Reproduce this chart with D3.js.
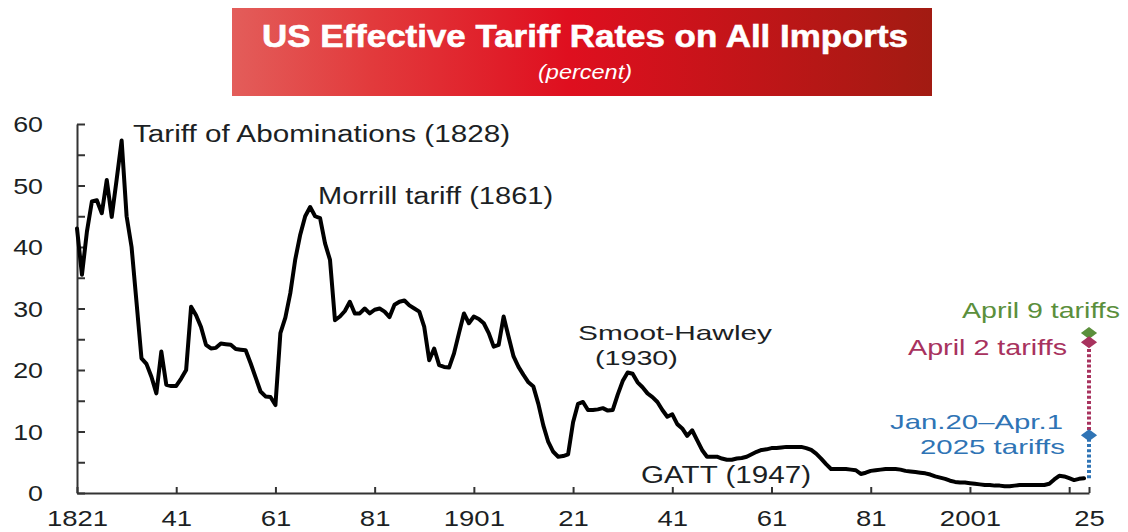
<!DOCTYPE html>
<html>
<head>
<meta charset="utf-8">
<script src="https://cdn.jsdelivr.net/npm/d3@7"></script>
<style>
  body { margin: 0; background: #fff; }
  svg { display: block; font-family: "Liberation Sans", Arial, Helvetica, sans-serif; }
</style>
</head>
<body>
<svg id="chart" width="1128" height="532"></svg>
<script>
// US effective tariff rate on all imports, percent, one value per year from 1821
const startYear = 1821;
const tariffRate = [
  43.0, 35.5, 42.5, 47.4, 47.6, 45.5, 50.9, 44.9, 51.0, 57.3,   // 1821-1830
  45.0, 40.0, 31.0, 21.9, 21.0, 18.9, 16.2, 23.0, 17.6, 17.4,   // 1831-1840
  17.4, 18.6, 20.0, 30.3, 28.9, 27.0, 24.1, 23.5, 23.6, 24.3,   // 1841-1850
  24.2, 24.1, 23.4, 23.3, 23.2, 21.1, 18.8, 16.5, 15.7, 15.6,   // 1851-1860
  14.3, 26.0, 28.5, 32.5, 38.0, 42.0, 45.0, 46.5, 45.0, 44.7,   // 1861-1870
  40.6, 37.9, 28.1, 28.7, 29.6, 31.1, 29.2, 29.2, 30.0, 29.2,   // 1871-1880
  29.8, 30.0, 29.5, 28.6, 30.6, 31.1, 31.3, 30.5, 30.0, 29.5,   // 1881-1890
  27.0, 21.6, 23.5, 20.8, 20.5, 20.4, 22.7, 26.0, 29.2, 27.6,   // 1891-1900
  28.7, 28.3, 27.6, 26.0, 23.8, 24.1, 28.7, 25.4, 22.2, 20.5,   // 1901-1910
  19.2, 18.0, 17.3, 14.5, 11.0,  8.3,  6.7,  5.9,  6.0,  6.3,   // 1911-1920
  11.5, 14.5, 14.8, 13.5, 13.5, 13.6, 13.8, 13.4, 13.5, 16.0,   // 1921-1930
  18.2, 19.6, 19.4, 18.0, 17.2, 16.2, 15.6, 14.8, 13.5, 12.4,   // 1931-1940
  12.8, 11.2, 10.5,  9.3, 10.2,  8.6,  7.0,  5.9,  5.9,  5.9,   // 1941-1950
   5.6,  5.4,  5.4,  5.6,  5.7,  5.9,  6.3,  6.7,  7.0,  7.1,   // 1951-1960
   7.3,  7.3,  7.4,  7.5,  7.5,  7.5,  7.5,  7.3,  7.0,  6.4,   // 1961-1970
   5.6,  4.7,  3.9,  3.9,  3.9,  3.9,  3.8,  3.7,  3.1,  3.3,   // 1971-1980
   3.6,  3.7,  3.8,  3.9,  3.9,  3.9,  3.8,  3.6,  3.5,  3.4,   // 1981-1990
   3.3,  3.2,  3.0,  2.7,  2.5,  2.3,  2.0,  1.8,  1.7,  1.7,   // 1991-2000
   1.6,  1.5,  1.4,  1.3,  1.3,  1.2,  1.2,  1.1,  1.1,  1.2,   // 2001-2010
   1.3,  1.3,  1.3,  1.3,  1.3,  1.3,  1.5,  2.2,  2.8,  2.7,   // 2011-2020
   2.4,  2.1,  2.3,  2.4                                        // 2021-2024
];

// 2025 scenarios
const scenarioYear = 2025;
const scenarioNames = ["Jan.20\u2013Apr.1 2025 tariffs", "April 2 tariffs", "April 9 tariffs"];
const scenarioRates = [9.4, 24.5, 26.0];
const scenarioColors = ["#2f74b5", "#a8325e", "#5b8f3c"];

// Axis ticks
const xTickYears  = [1821, 1841, 1861, 1881, 1901, 1921, 1941, 1961, 1981, 2001, 2021, 2025];
const xTickLabels = ["1821", "41", "61", "81", "1901", "21", "41", "61", "81", "2001", "", "25"];
const yTickValues = [0, 5, 10, 15, 20, 25, 30, 35, 40, 45, 50, 55, 60];
const yTickLabels = ["0", "", "10", "", "20", "", "30", "", "40", "", "50", "", "60"];

// Historical episodes
const eventLabels = ["Tariff of Abominations (1828)", "Morrill tariff (1861)", "Smoot-Hawley", "(1930)", "GATT (1947)"];

const titleText = "US Effective Tariff Rates on All Imports";
const subtitleText = "(percent)";

const series = tariffRate.map((v, i) => ({ year: startYear + i, value: v }));

const svg = d3.select("#chart");
const FONT_TXT = "#1c1f24";

const x = d3.scaleLinear().domain([1821, 2025]).range([77, 1089]);
const y = d3.scaleLinear().domain([0, 60]).range([493, 124]);

// Stretch text horizontally (the lettering is set wide)
function widen(sel, factor) {
  sel.each(function () {
    const len = this.getComputedTextLength();
    if (len > 0) {
      d3.select(this).attr("textLength", len * factor).attr("lengthAdjust", "spacingAndGlyphs");
    }
  });
}

// ---- Title banner ----
const defs = svg.append("defs");
const grad = defs.append("linearGradient").attr("id", "banner").attr("x1", "0%").attr("x2", "100%");
grad.append("stop").attr("offset", "0%").attr("stop-color", "#e35d5a");
grad.append("stop").attr("offset", "20%").attr("stop-color", "#e23a3c");
grad.append("stop").attr("offset", "48%").attr("stop-color", "#df0f1f");
grad.append("stop").attr("offset", "75%").attr("stop-color", "#c01518");
grad.append("stop").attr("offset", "100%").attr("stop-color", "#a21b12");

svg.append("rect")
  .attr("x", 232).attr("y", 8).attr("width", 700).attr("height", 88)
  .attr("fill", "url(#banner)");

svg.append("text")
  .attr("x", 585).attr("y", 47)
  .attr("text-anchor", "middle")
  .attr("fill", "#fff")
  .attr("font-weight", "bold")
  .attr("font-size", 32)
  .attr("stroke", "#fff").attr("stroke-width", 0.6)
  .attr("textLength", 646).attr("lengthAdjust", "spacingAndGlyphs")
  .text(titleText);

svg.append("text")
  .attr("x", 585).attr("y", 79)
  .attr("text-anchor", "middle")
  .attr("fill", "#fff")
  .attr("font-style", "italic")
  .attr("font-size", 20)
  .attr("textLength", 94).attr("lengthAdjust", "spacingAndGlyphs")
  .text(subtitleText);

// ---- Axes ----
const xAxis = d3.axisBottom(x)
  .tickValues(xTickYears)
  .tickFormat((d, i) => xTickLabels[i])
  .tickSizeInner(-6).tickSizeOuter(0)
  .tickPadding(17);

const yAxis = d3.axisLeft(y)
  .tickValues(yTickValues)
  .tickFormat((d, i) => yTickLabels[i])
  .tickSizeInner(-8).tickSizeOuter(0)
  .tickPadding(34);

const gx = svg.append("g").attr("transform", `translate(0,${y(0)})`).call(xAxis);
const gy = svg.append("g").attr("transform", `translate(${x(1821)},0)`).call(yAxis);

[gx, gy].forEach(g => {
  g.select(".domain").attr("stroke", "#333").attr("stroke-width", 2);
  g.selectAll(".tick line").attr("stroke", "#333").attr("stroke-width", 2);
  g.selectAll(".tick text")
    .attr("fill", FONT_TXT)
    .attr("font-size", 22)
    .attr("font-family", "\"Liberation Sans\", Arial, sans-serif");
});
gy.selectAll(".tick text").attr("dy", "0.36em");
widen(gx.selectAll(".tick text"), 1.25);
widen(gy.selectAll(".tick text"), 1.22);

// ---- Tariff line ----
const line = d3.line()
  .x(d => x(d.year))
  .y(d => y(d.value));

svg.append("path")
  .datum(series)
  .attr("fill", "none")
  .attr("stroke", "#000")
  .attr("stroke-width", 4)
  .attr("stroke-linejoin", "round")
  .attr("stroke-linecap", "round")
  .attr("d", line);

// ---- 2025 scenarios: dotted risers and diamonds ----
const lastRate = tariffRate[tariffRate.length - 1];
const risers = [
  { from: lastRate, to: scenarioRates[0], color: scenarioColors[0] },
  { from: scenarioRates[0], to: scenarioRates[1], color: scenarioColors[1] }
];
svg.selectAll("line.riser")
  .data(risers)
  .join("line")
  .attr("class", "riser")
  .attr("x1", x(scenarioYear)).attr("x2", x(scenarioYear))
  .attr("y1", d => y(d.from)).attr("y2", d => y(d.to))
  .attr("stroke", d => d.color)
  .attr("stroke-width", 4)
  .attr("stroke-dasharray", "3,2.2");

const diamond = d3.symbol().type(d3.symbolSquare).size(72);
const order = [2, 1, 0];
svg.selectAll("path.scenario")
  .data(order)
  .join("path")
  .attr("class", "scenario")
  .attr("d", diamond)
  .attr("fill", i => scenarioColors[i])
  .attr("transform", i => `translate(${x(scenarioYear)},${y(scenarioRates[i])}) scale(1.35,1) rotate(45)`);

// ---- Annotations ----
function note(txt, px, py, width, color, anchor, size) {
  svg.append("text")
    .attr("x", px).attr("y", py)
    .attr("text-anchor", anchor || "start")
    .attr("fill", color || FONT_TXT)
    .attr("font-size", size || 23)
    .attr("textLength", width).attr("lengthAdjust", "spacingAndGlyphs")
    .text(txt);
}

note(eventLabels[0], x(1832.3), y(57.1), 377);
note(eventLabels[1], x(1869.6), y(47.0), 235);
note(eventLabels[2], x(1922.0), y(24.8), 194, null, "start", 21);
note(eventLabels[3], x(1925.4), y(20.8), 83, null, "start", 21);
note(eventLabels[4], x(1934.7), y(1.6), 170);

const sx = x(scenarioYear);
note(scenarioNames[2], sx + 31, y(scenarioRates[2]) - 15, 158, scenarioColors[2], "end", 22);
note(scenarioNames[1], sx - 22, y(scenarioRates[1]) + 13, 159, scenarioColors[1], "end", 22);
const blueParts = scenarioNames[0].split(" 2025 ");
note(blueParts[0], sx - 26, y(scenarioRates[0]) - 6, 173, scenarioColors[0], "end", 21);
note("2025 " + blueParts[1], sx - 24, y(scenarioRates[0]) + 19, 145, scenarioColors[0], "end", 21);
</script>
</body>
</html>
